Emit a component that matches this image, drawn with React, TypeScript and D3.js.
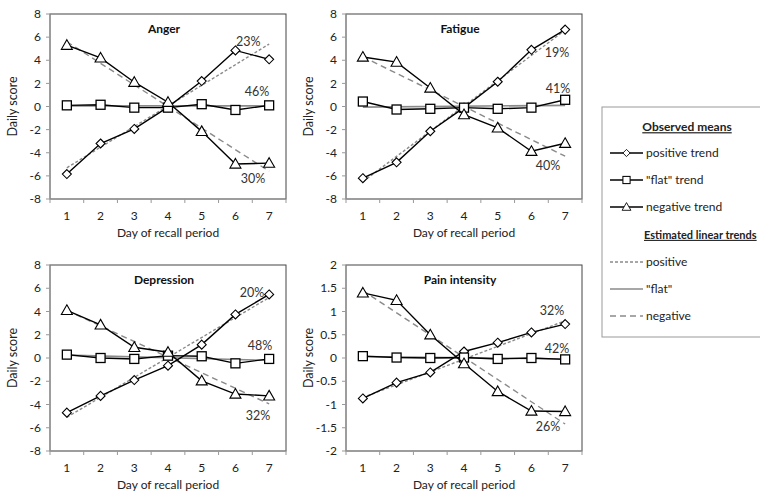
import * as d3 from "d3";

// ---- data ----
const days = [1, 2, 3, 4, 5, 6, 7];
const panelTitles = ["Anger", "Fatigue", "Depression", "Pain intensity"];

const angerPositive = [-5.84, -3.2, -1.94, -0.05, 2.2, 4.85, 4.08];
const angerFlat = [0.1, 0.15, -0.1, -0.1, 0.2, -0.3, 0.1];
const angerNegative = [5.3, 4.2, 2.1, 0.37, -2.15, -4.97, -4.9];

const fatiguePositive = [-6.2, -4.83, -2.14, -0.1, 2.14, 4.9, 6.65];
const fatigueFlat = [0.43, -0.26, -0.2, -0.1, -0.2, -0.1, 0.58];
const fatigueNegative = [4.28, 3.84, 1.6, -0.7, -1.85, -3.87, -3.18];

const depressionPositive = [-4.7, -3.26, -1.9, -0.66, 1.15, 3.75, 5.47];
const depressionFlat = [0.29, 0, -0.08, 0.2, 0.15, -0.46, -0.08];
const depressionNegative = [4.1, 2.85, 0.92, 0.5, -1.96, -3.1, -3.26];

const painPositive = [-0.87, -0.53, -0.31, 0.14, 0.33, 0.55, 0.73];
const painFlat = [0.04, 0.01, 0, 0.01, -0.02, 0, -0.03];
const painNegative = [1.4, 1.24, 0.5, -0.12, -0.72, -1.14, -1.15];

// estimated linear trends: value at day 1 and at day 7
const trendPositive = [[-5.3, 5.4], [-6.5, 6.6], [-5.1, 5.2], [-0.85, 0.8]];
const trendFlat = [[0.05, 0.05], [-0.05, 0.1], [0.25, -0.2], [0.03, -0.02]];
const trendNegative = [[5.6, -5.6], [4.3, -4.3], [4.1, -3.95], [1.45, -1.42]];

// percentage labels: [day position, value position, text]
const pctLabels: [number, number, string][][] = [
  [[6.38, 5.58, "23%"], [6.64, 1.25, "46%"], [6.52, -6.2, "30%"]],
  [[6.76, 4.63, "19%"], [6.79, 1.51, "41%"], [6.49, -5.15, "40%"]],
  [[6.49, 5.59, "20%"], [6.73, 1.1, "48%"], [6.67, -4.93, "32%"]],
  [[6.61, 1.01, "32%"], [6.76, 0.21, "42%"], [6.49, -1.48, "26%"]],
];

const bigTicks = [8, 6, 4, 2, 0, -2, -4, -6, -8];
const painTicks = [2, 1.5, 1, 0.5, 0, -0.5, -1, -1.5, -2];

const series = [
  [angerPositive, angerFlat, angerNegative],
  [fatiguePositive, fatigueFlat, fatigueNegative],
  [depressionPositive, depressionFlat, depressionNegative],
  [painPositive, painFlat, painNegative],
];
const yDomains: [number, number][] = [[-8, 8], [-8, 8], [-8, 8], [-2, 2]];
const yTicks = [bigTicks, bigTicks, bigTicks, painTicks];

// layout
const boxes = [
  { left: 50, right: 286, top: 14, bottom: 199 },
  { left: 346, right: 582, top: 14, bottom: 199 },
  { left: 50, right: 286, top: 265, bottom: 451 },
  { left: 346, right: 582, top: 265, bottom: 451 },
];

const FONT = "Lato, 'Open Sans', sans-serif";
const dashPos = "3,2";
const dashNeg = "6,4";
const trendGray = "#8a8a8a";

const Marker = ({ kind, x, y }: { kind: number; x: number; y: number }) => {
  if (kind === 0) {
    const r = 4.5;
    return (
      <path
        d={`M${x},${y - r}L${x + r},${y}L${x},${y + r}L${x - r},${y}Z`}
        fill="#fff"
        stroke="#000"
        strokeWidth={1.1}
      />
    );
  }
  if (kind === 1) {
    return (
      <rect x={x - 4.5} y={y - 4.5} width={9} height={9} fill="#fff" stroke="#000" strokeWidth={1.3} />
    );
  }
  const s = 5.5;
  return (
    <path
      d={`M${x},${y - s}L${x + s},${y + s * 0.75}L${x - s},${y + s * 0.75}Z`}
      fill="#fff"
      stroke="#000"
      strokeWidth={1.1}
    />
  );
};

const Panel = ({ idx }: { idx: number }) => {
  const b = boxes[idx];
  const x = d3.scaleBand<number>().domain(days).range([b.left, b.right]).padding(0);
  const bw = x.bandwidth();
  const xc = (d: number) => b.left + (d - 0.5) * bw;
  const y = d3.scaleLinear().domain(yDomains[idx]).range([b.bottom, b.top]);
  const line = d3
    .line<number>()
    .x((_, i) => (x(days[i]) as number) + bw / 2)
    .y((v) => y(v));
  const edges = d3.range(days.length + 1).map((i) => b.left + i * bw);
  const trends = [trendPositive[idx], trendFlat[idx], trendNegative[idx]];
  const trendStyle = [
    { dash: dashPos, w: 1.4 },
    { dash: undefined, w: 1.6 },
    { dash: dashNeg, w: 1.4 },
  ];
  const midY = (b.top + b.bottom) / 2;
  return (
    <g fontFamily={FONT}>
      <rect
        x={b.left}
        y={b.top}
        width={b.right - b.left}
        height={b.bottom - b.top}
        fill="none"
        stroke="#444"
        strokeWidth={1}
      />
      <line x1={b.left} x2={b.left} y1={b.top} y2={b.bottom} stroke="#999" />
      <line x1={b.left} x2={b.right} y1={b.bottom} y2={b.bottom} stroke="#999" />
      {yTicks[idx].map((t) => (
        <g key={t}>
          <line x1={b.left - 4} x2={b.left} y1={y(t)} y2={y(t)} stroke="#999" />
          <text x={b.left - 9} y={y(t)} dy="0.35em" textAnchor="end" fontSize={12} fill="#222">
            {t}
          </text>
        </g>
      ))}
      {edges.map((e, i) => (
        <line key={i} x1={e} x2={e} y1={b.bottom} y2={b.bottom + 4} stroke="#999" />
      ))}
      {days.map((d) => (
        <text
          key={d}
          x={(x(d) as number) + bw / 2}
          y={b.bottom + 21}
          textAnchor="middle"
          fontSize={12}
          fill="#222"
        >
          {d}
        </text>
      ))}
      <text x={(b.left + b.right) / 2} y={b.bottom + 38} textAnchor="middle" fontSize={12} fill="#222">
        Day of recall period
      </text>
      <text
        transform={`translate(${b.left - 33},${midY}) rotate(-90)`}
        textAnchor="middle"
        fontSize={12.5}
        fill="#222"
      >
        Daily score
      </text>
      <text
        x={(b.left + b.right) / 2 - 4}
        y={b.top + 19}
        textAnchor="middle"
        fontSize={12}
        fontWeight="bold"
        fill="#111"
      >
        {panelTitles[idx]}
      </text>
      {trends.map((tr, k) => (
        <line
          key={k}
          x1={xc(1)}
          x2={xc(7)}
          y1={y(tr[0])}
          y2={y(tr[1])}
          stroke={trendGray}
          strokeWidth={trendStyle[k].w}
          strokeDasharray={trendStyle[k].dash}
        />
      ))}
      {series[idx].map((vals, k) => (
        <g key={k}>
          <path d={line(vals) || ""} fill="none" stroke="#000" strokeWidth={1.4} />
          {vals.map((v, i) => (
            <Marker key={i} kind={k} x={(x(days[i]) as number) + bw / 2} y={y(v)} />
          ))}
        </g>
      ))}
      {pctLabels[idx].map(([dd, vv, t]) => (
        <text key={t + dd} x={xc(dd)} y={y(vv)} dy="0.35em" textAnchor="middle" fontSize={12.5} fill="#333">
          {t}
        </text>
      ))}
    </g>
  );
};

const legendObserved = ["positive trend", "\"flat\" trend", "negative trend"];
const legendTrends = ["positive", "\"flat\"", "negative"];

const Legend = () => {
  const lx = 602;
  const top = 107;
  const rowY = [153, 180, 207];
  const rowY2 = [262, 289, 316];
  return (
    <g fontFamily={FONT} fontSize={12} fill="#222">
      <rect x={lx} y={top} width={180} height={230} fill="#fff" stroke="#999" />
      <text x={687} y={127} dy="0.35em" textAnchor="middle" fontWeight="bold" textDecoration="underline">
        Observed means
      </text>
      {legendObserved.map((t, k) => (
        <g key={t}>
          <line x1={610} x2={643} y1={rowY[k]} y2={rowY[k]} stroke="#000" strokeWidth={1.4} />
          <g transform={`translate(626.5,${rowY[k]}) scale(0.8) translate(-626.5,${-rowY[k]})`}>
            <Marker kind={k} x={626.5} y={rowY[k]} />
          </g>
          <text x={646} y={rowY[k]} dy="0.35em">
            {t}
          </text>
        </g>
      ))}
      <text x={644} y={235} dy="0.35em" fontWeight="bold" fontSize={11} textDecoration="underline">
        Estimated linear trends
      </text>
      {legendTrends.map((t, k) => (
        <g key={t}>
          <line
            x1={610}
            x2={643}
            y1={rowY2[k]}
            y2={rowY2[k]}
            stroke={trendGray}
            strokeWidth={1.5}
            strokeDasharray={k === 0 ? dashPos : k === 2 ? dashNeg : undefined}
          />
          <text x={646} y={rowY2[k]} dy="0.35em">
            {t}
          </text>
        </g>
      ))}
    </g>
  );
};

export default function App() {
  return (
    <svg
      width={760}
      height={495}
      style={{ position: "absolute", left: 0, top: 0, background: "#fff" }}
    >
      <rect width={760} height={495} fill="#fff" />
      {[0, 1, 2, 3].map((i) => (
        <Panel key={i} idx={i} />
      ))}
      <Legend />
    </svg>
  );
}
